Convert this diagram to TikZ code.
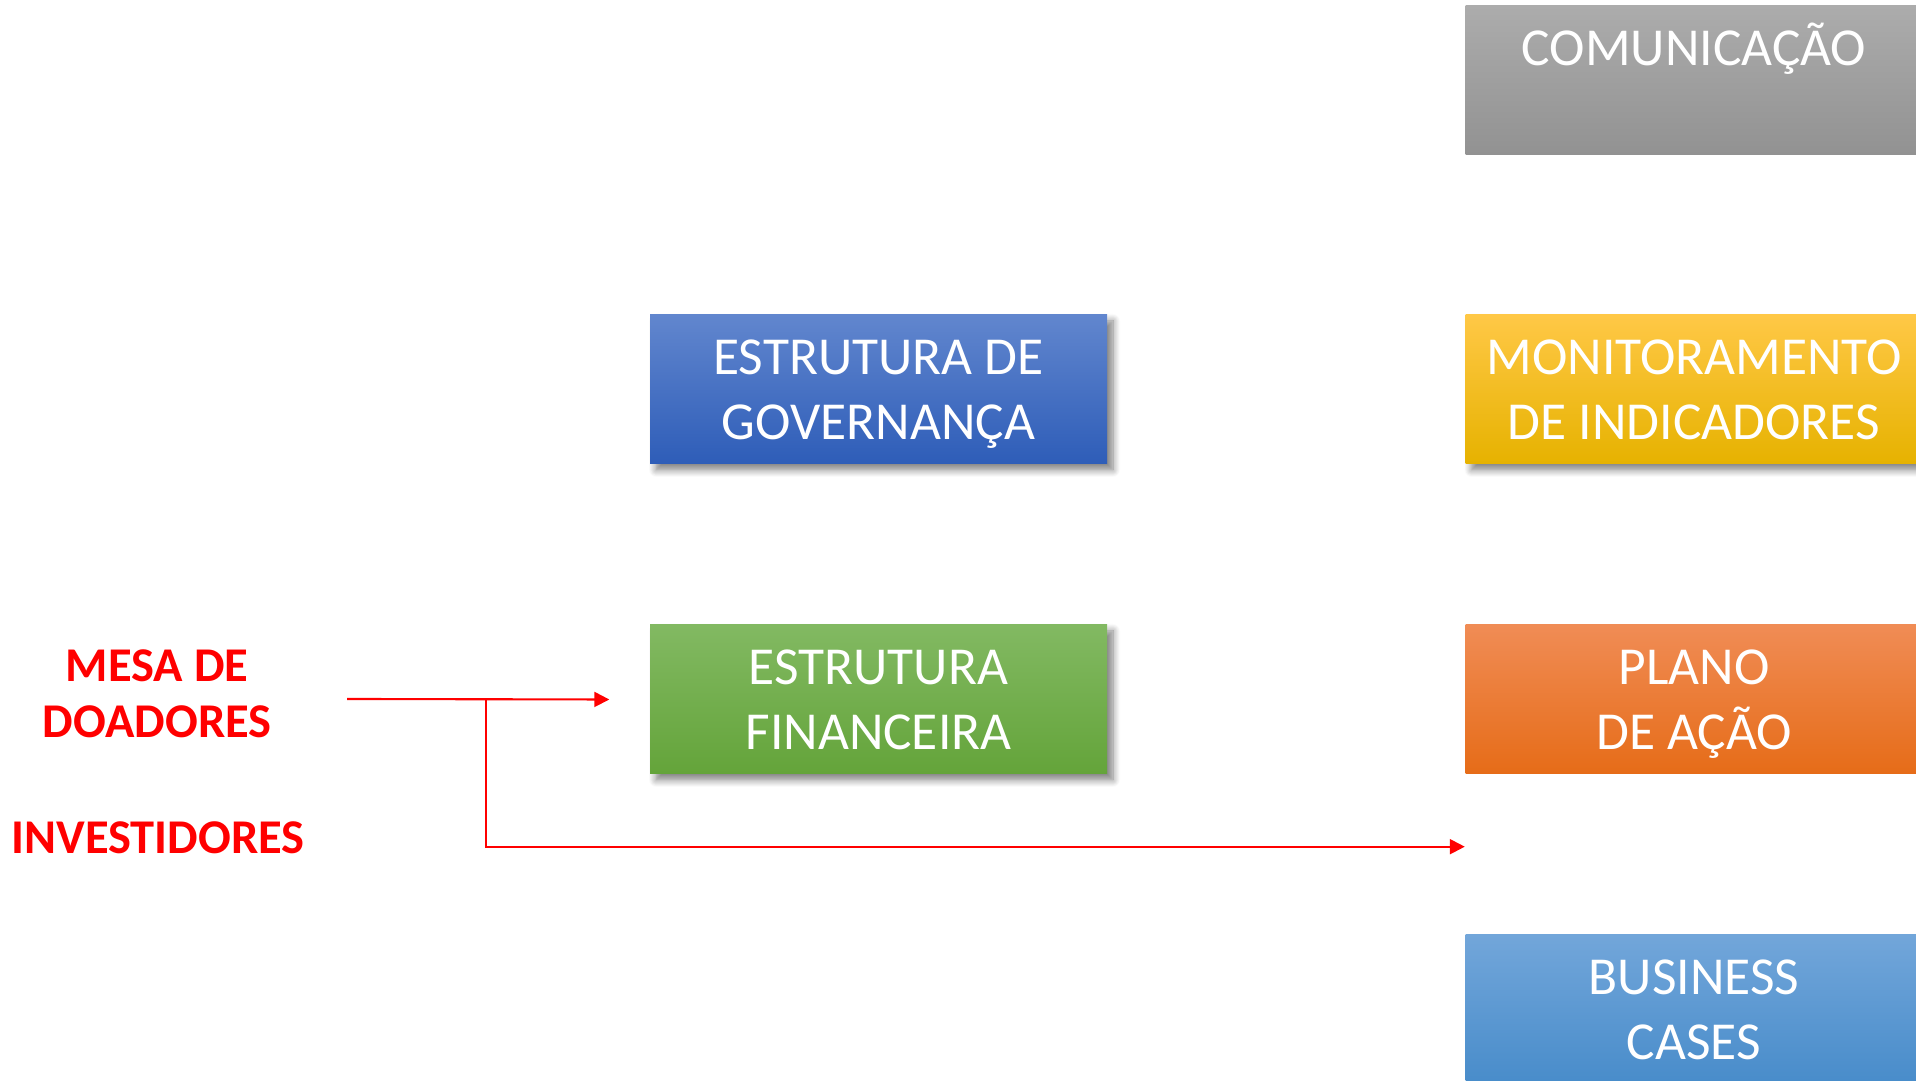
\documentclass[tikz,border=0pt]{standalone}
\usepackage{fontspec}
\setmainfont{Carlito}
\usetikzlibrary{arrows.meta,shadows.blur,calc}

% 颜色
\definecolor{comTop}{RGB}{172,172,172}
\definecolor{comBot}{RGB}{146,146,146}
\definecolor{govTop}{RGB}{97,134,206}
\definecolor{govBot}{RGB}{46,93,184}
\definecolor{monTop}{RGB}{255,200,70}
\definecolor{monMid}{RGB}{255,192,0}
\definecolor{monBot}{RGB}{230,178,0}
\definecolor{finTop}{RGB}{130,185,98}
\definecolor{finBot}{RGB}{100,164,58}
\definecolor{plaTop}{RGB}{240,140,85}
\definecolor{plaMid}{RGB}{244,124,36}
\definecolor{plaBot}{RGB}{230,108,24}
\definecolor{busTop}{RGB}{114,166,218}
\definecolor{busBot}{RGB}{72,140,202}

\tikzset{
  box/.style={minimum width=4.57cm, minimum height=1.49cm, inner sep=0pt,
    align=center, text=white, text height=28.4pt, text depth=0pt,
    font=\fontsize{15.2}{18.4}\selectfont},
  boxshadow/.style={blur shadow={shadow xshift=0.6mm, shadow yshift=-0.6mm,
    shadow blur radius=0.7mm, shadow blur steps=8, shadow opacity=50}},
  redtext/.style={text=red, align=center, inner sep=0pt,
    font=\fontsize{13.8}{16}\selectfont\bfseries},
  redarrow/.style={draw=red, line width=0.6pt, -{Triangle[length=1.5mm,width=1.5mm]}}
}

\begin{document}
\begin{tikzpicture}

    \useasboundingbox (0,0) rectangle (19.16,-10.81);
    \clip (0,0) rectangle (19.16,-10.81);

    % 中间两个方框
    \node[box, boxshadow, top color=govTop, bottom color=govBot] (gov) at (8.785,-3.895) {ESTRUTURA DE\\ GOVERNANÇA};
    \node[box, boxshadow, top color=finTop, bottom color=finBot] (fin) at (8.785,-6.995) {ESTRUTURA\\FINANCEIRA};

    % 右边一列方框
    \node[box, top color=comTop, bottom color=comBot] (com) at (16.94,-0.80) {COMUNICAÇÃO\\\phantom{X}};
    \node[box, boxshadow, top color=monTop, middle color=monMid, bottom color=monBot] (mon) at (16.94,-3.895) {MONITORAMENTO\\DE INDICADORES};
    \node[box, top color=plaTop, middle color=plaMid, bottom color=plaBot] (pla) at (16.94,-6.995) {PLANO\\DE AÇÃO};
    \node[box, top color=busTop, bottom color=busBot] (bus) at (16.94,-10.095) {BUSINESS\\CASES};

    % 红色文字
    \node[redtext] (mesa) at (1.57,-6.94) {MESA DE\\DOADORES};
    \node[redtext] (inv) at (1.58,-8.38) {INVESTIDORES};

    % 红色箭头
    \coordinate (src) at (3.47,-6.99);
    \coordinate (split) at (4.86,-6.99);
    \draw[redarrow] (src) -- ([xshift=-4mm]fin.west);
    \draw[redarrow] (split) |- ($(pla.south west)+(0,-0.72)$);

\end{tikzpicture}
\end{document}
